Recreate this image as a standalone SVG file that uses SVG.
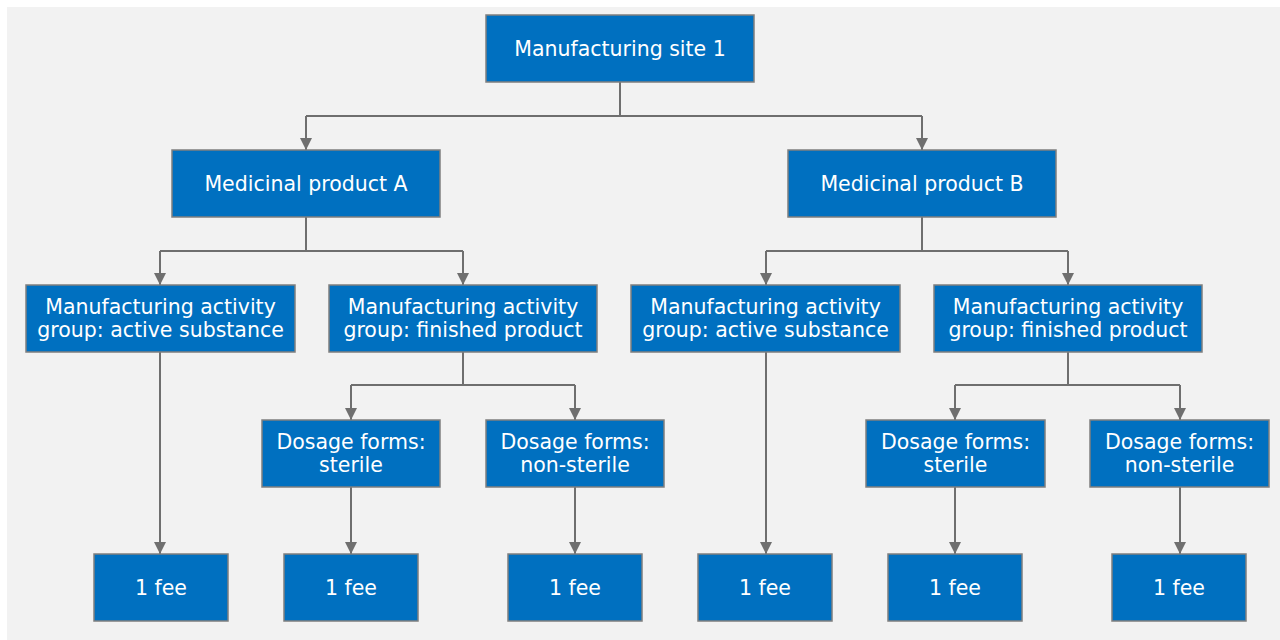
<svg xmlns="http://www.w3.org/2000/svg" width="1280" height="640" viewBox="0 0 1280 640">
<defs>
<marker id="ah" viewBox="0 0 10 10" refX="10" refY="5" markerWidth="12" markerHeight="12" markerUnits="userSpaceOnUse" orient="auto">
<path d="M0,0 L10,5 L0,10 z" fill="#6f6f6f"/>
</marker>
<style>
.box{fill:#0070c0;stroke:#7f7f7f;stroke-width:1.5}
.t{font-family:"DejaVu Sans",Verdana,sans-serif;font-size:20.5px;fill:#ffffff;text-anchor:middle}
.c{fill:none;stroke:#6f6f6f;stroke-width:2}
.a{marker-end:url(#ah)}
</style>
</defs>
<rect x="0" y="0" width="1280" height="640" fill="#ffffff"/>
<rect x="7" y="7" width="1273" height="633" fill="#f2f2f2"/>
<g id="connectors">
<path class="c" d="M620,82 V116"/>
<path class="c" d="M306,116 H922"/>
<path class="c a" d="M306,116 V150"/>
<path class="c a" d="M922,116 V150"/>
<path class="c" d="M306,217 V251 M160,251 H463"/>
<path class="c a" d="M160,251 V285"/>
<path class="c a" d="M463,251 V285"/>
<path class="c" d="M922,217 V251 M766,251 H1068"/>
<path class="c a" d="M766,251 V285"/>
<path class="c a" d="M1068,251 V285"/>
<path class="c" d="M463,352 V385 M351,385 H575"/>
<path class="c a" d="M351,385 V420"/>
<path class="c a" d="M575,385 V420"/>
<path class="c" d="M1068,352 V385 M955,385 H1180"/>
<path class="c a" d="M955,385 V420"/>
<path class="c a" d="M1180,385 V420"/>
<path class="c a" d="M160,352 V554"/>
<path class="c a" d="M766,352 V554"/>
<path class="c a" d="M351,487 V554"/>
<path class="c a" d="M575,487 V554"/>
<path class="c a" d="M955,487 V554"/>
<path class="c a" d="M1180,487 V554"/>
</g>
<g id="site1"><rect class="box" x="486" y="15" width="268" height="67"/><text class="t" x="620" y="56">Manufacturing site 1</text></g>
<g id="productA"><rect class="box" x="172" y="150" width="268" height="67"/><text class="t" x="306" y="191">Medicinal product A</text></g>
<g id="productB"><rect class="box" x="788" y="150" width="268" height="67"/><text class="t" x="922" y="191">Medicinal product B</text></g>
<g id="A-active"><rect class="box" x="26" y="285" width="269" height="67"/><text class="t" x="160.5" y="314">Manufacturing activity</text><text class="t" x="160.5" y="337">group: active substance</text></g>
<g id="A-finished"><rect class="box" x="329" y="285" width="268" height="67"/><text class="t" x="463" y="314">Manufacturing activity</text><text class="t" x="463" y="337">group: finished product</text></g>
<g id="B-active"><rect class="box" x="631" y="285" width="269" height="67"/><text class="t" x="765.5" y="314">Manufacturing activity</text><text class="t" x="765.5" y="337">group: active substance</text></g>
<g id="B-finished"><rect class="box" x="934" y="285" width="268" height="67"/><text class="t" x="1068" y="314">Manufacturing activity</text><text class="t" x="1068" y="337">group: finished product</text></g>
<g id="A-sterile"><rect class="box" x="262" y="420" width="178" height="67"/><text class="t" x="351" y="449">Dosage forms:</text><text class="t" x="351" y="472">sterile</text></g>
<g id="A-nonsterile"><rect class="box" x="486" y="420" width="178" height="67"/><text class="t" x="575" y="449">Dosage forms:</text><text class="t" x="575" y="472">non-sterile</text></g>
<g id="B-sterile"><rect class="box" x="866" y="420" width="179" height="67"/><text class="t" x="955.5" y="449">Dosage forms:</text><text class="t" x="955.5" y="472">sterile</text></g>
<g id="B-nonsterile"><rect class="box" x="1090" y="420" width="179" height="67"/><text class="t" x="1179.5" y="449">Dosage forms:</text><text class="t" x="1179.5" y="472">non-sterile</text></g>
<g id="fee1"><rect class="box" x="94" y="554" width="134" height="67"/><text class="t" x="161" y="595">1 fee</text></g>
<g id="fee2"><rect class="box" x="284" y="554" width="134" height="67"/><text class="t" x="351" y="595">1 fee</text></g>
<g id="fee3"><rect class="box" x="508" y="554" width="134" height="67"/><text class="t" x="575" y="595">1 fee</text></g>
<g id="fee4"><rect class="box" x="698" y="554" width="134" height="67"/><text class="t" x="765" y="595">1 fee</text></g>
<g id="fee5"><rect class="box" x="888" y="554" width="134" height="67"/><text class="t" x="955" y="595">1 fee</text></g>
<g id="fee6"><rect class="box" x="1112" y="554" width="134" height="67"/><text class="t" x="1179" y="595">1 fee</text></g>
</svg>
